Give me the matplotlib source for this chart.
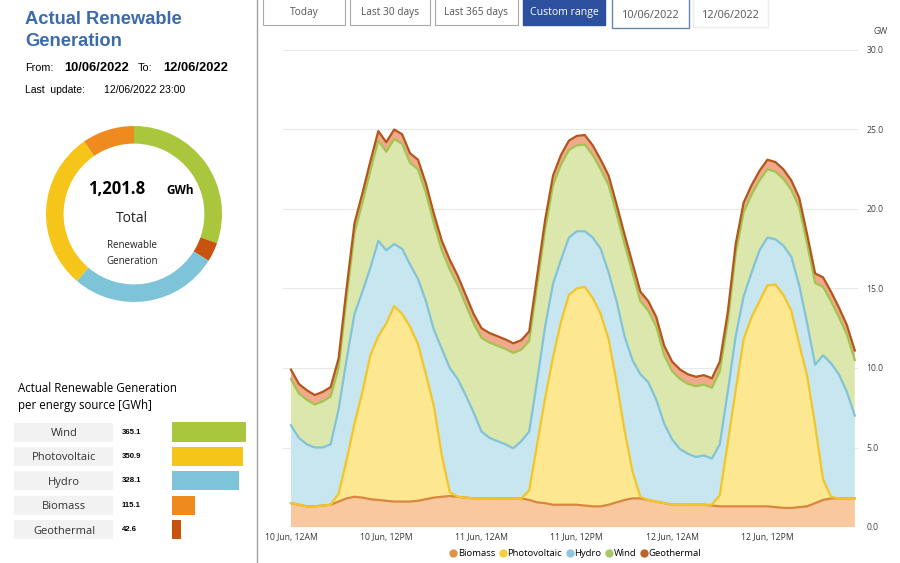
import matplotlib.pyplot as plt
import numpy as np
from matplotlib.patches import Rectangle
from matplotlib.lines import Line2D

# hourly generation per source [GW], 10/06/2022 00:00 .. 12/06/2022 23:00
biomass = [1.5, 1.4, 1.3, 1.3, 1.35, 1.4, 1.6, 1.8, 1.9, 1.85, 1.75, 1.7,
           1.65, 1.6, 1.6, 1.6, 1.65, 1.75, 1.85, 1.9, 1.95, 1.9, 1.85, 1.8,
           1.8, 1.8, 1.8, 1.8, 1.8, 1.8, 1.7, 1.55, 1.5, 1.4, 1.4, 1.4,
           1.4, 1.35, 1.3, 1.3, 1.4, 1.55, 1.7, 1.8, 1.8, 1.7, 1.6, 1.5,
           1.4, 1.4, 1.4, 1.4, 1.4, 1.35, 1.3, 1.3, 1.3, 1.3, 1.3, 1.3,
           1.3, 1.25, 1.2, 1.2, 1.25, 1.3, 1.5, 1.7, 1.8, 1.8, 1.8, 1.8]
photovoltaic = [0, 0, 0, 0, 0, 0, 0.5, 2.4, 4.6, 6.65, 9.05, 10.3,
                11.15, 12.3, 11.8, 11.0, 9.85, 7.85, 5.75, 2.6, 0.25, 0, 0, 0,
                0, 0, 0, 0, 0, 0, 0.6, 3.65, 6.6, 9.3, 11.5, 13.2,
                13.6, 13.75, 13.1, 12.1, 10.4, 7.55, 4.4, 1.7, 0.1, 0, 0, 0,
                0, 0, 0, 0, 0, 0.05, 0.7, 4.0, 7.3, 10.5, 11.9, 12.9,
                13.9, 14.0, 13.4, 12.4, 10.25, 8.2, 4.9, 1.3, 0.1, 0, 0, 0]
hydro = [4.9, 4.2, 3.9, 3.7, 3.65, 3.8, 5.3, 6.3, 6.9, 6.3, 5.5, 6.0,
         4.6, 3.9, 4.1, 3.9, 4.1, 4.6, 4.8, 6.7, 7.8, 7.4, 6.45, 5.4,
         4.2, 3.8, 3.6, 3.4, 3.15, 3.6, 3.7, 4.0, 4.5, 4.6, 3.9, 3.6,
         3.6, 3.5, 3.8, 4.1, 4.2, 5.1, 5.9, 7.0, 7.7, 7.4, 6.4, 5.0,
         4.1, 3.5, 3.2, 3.0, 3.1, 2.9, 3.2, 3.2, 3.4, 2.7, 2.8, 3.2,
         3.0, 2.85, 3.1, 3.4, 3.7, 3.3, 3.8, 7.8, 8.4, 7.8, 6.7, 5.2]
wind = [2.9, 2.8, 2.8, 2.7, 2.9, 3.0, 2.6, 3.9, 5.1, 5.6, 6.1, 6.3,
        6.2, 6.6, 6.6, 6.4, 6.9, 6.8, 6.7, 6.2, 6.2, 5.9, 5.7, 5.6,
        5.9, 6.0, 6.0, 6.0, 6.0, 5.75, 5.7, 6.0, 6.1, 6.2, 6.0, 5.5,
        5.4, 5.45, 5.2, 5.0, 5.5, 5.5, 5.8, 5.5, 4.6, 4.5, 4.6, 4.3,
        4.3, 4.4, 4.4, 4.45, 4.45, 4.45, 4.6, 4.4, 5.2, 5.3, 4.9, 4.4,
        4.3, 4.25, 4.2, 4.2, 4.9, 5.0, 5.15, 4.3, 3.9, 3.6, 3.6, 3.5]
geothermal = [0.6, 0.6, 0.6, 0.6, 0.6, 0.6, 0.6, 0.6, 0.6, 0.6, 0.6, 0.6,
              0.6, 0.6, 0.6, 0.6, 0.6, 0.6, 0.6, 0.6, 0.6, 0.6, 0.6, 0.6,
              0.6, 0.6, 0.6, 0.6, 0.6, 0.6, 0.6, 0.6, 0.6, 0.6, 0.6, 0.6,
              0.6, 0.6, 0.6, 0.6, 0.6, 0.6, 0.6, 0.6, 0.6, 0.6, 0.6, 0.6,
              0.6, 0.6, 0.6, 0.6, 0.6, 0.6, 0.6, 0.6, 0.6, 0.6, 0.6, 0.6,
              0.6, 0.6, 0.6, 0.6, 0.6, 0.6, 0.6, 0.6, 0.6, 0.6, 0.6, 0.6]
hours = np.arange(len(biomass))

# totals per source [GWh]
sources = ['Wind', 'Photovoltaic', 'Hydro', 'Biomass', 'Geothermal']
totals = [365.1, 350.9, 328.1, 115.1, 42.6]
donut_order = ['Wind', 'Geothermal', 'Hydro', 'Photovoltaic', 'Biomass']
total_text = '1,201.8'

tick_hours = [0, 12, 24, 36, 48, 60]
tick_labels = ['10 Jun, 12AM', '10 Jun, 12PM', '11 Jun, 12AM',
               '11 Jun, 12PM', '12 Jun, 12AM', '12 Jun, 12PM']
y_ticks = [0, 5, 10, 15, 20, 25, 30]
buttons = ['Today', 'Last 30 days', 'Last 365 days', 'Custom range',
           '10/06/2022', '12/06/2022']

solid = {'Wind': '#a9c63d', 'Photovoltaic': '#f5c51a', 'Hydro': '#7ec4d8',
         'Biomass': '#ef8b1e', 'Geothermal': '#c8520f'}
fills = ['#f9c89e', '#fde891', '#c8e6f0', '#dbe7ad', '#f0a98a']
lines = ['#d7873e', '#f1c62a', '#82c3d6', '#a4c452', '#b4561c']
marks = ['#dd9448', '#f5cf3c', '#8ec8da', '#a6c868', '#c0602a']

W, H = 900, 563


def box(x0, y0, x1, y1):
    return [x0 / W, 1 - y1 / H, (x1 - x0) / W, (y1 - y0) / H]


fig = plt.figure(figsize=(9, 5.63), dpi=100)
fig.patch.set_facecolor('white')
ui = 'Open Sans'
arial = 'Liberation Sans'

# pixel overlay for texts and frames
ov = fig.add_axes([0, 0, 1, 1])
ov.set_xlim(0, W)
ov.set_ylim(H, 0)
ov.axis('off')

ov.plot([257, 257], [0, H], color='#a0a0a0', lw=1)

ov.text(25, 19, 'Actual Renewable', fontsize=13.2, weight='bold', color='#3b6bab',
        family=arial, va='center')
ov.text(25, 41, 'Generation', fontsize=13.2, weight='bold', color='#3b6bab',
        family=arial, va='center')
ov.text(25, 68, 'From:', fontsize=7.8, family=arial, va='center')
ov.text(64, 68, '10/06/2022', fontsize=9.3, weight='bold', family=arial, va='center')
ov.text(138, 68, 'To:', fontsize=7.8, family=arial, va='center')
ov.text(163, 68, '12/06/2022', fontsize=9.3, weight='bold', family=arial, va='center')
ov.text(25, 90, 'Last  update:', fontsize=7.5, family=arial, va='center')
ov.text(104, 90, '12/06/2022 23:00', fontsize=7.5, family=arial, va='center')

# donut
dax = fig.add_axes(box(46, 126, 222, 302))
dax.pie([totals[sources.index(s)] for s in donut_order],
        colors=[solid[s] for s in donut_order], startangle=90, counterclock=False,
        wedgeprops=dict(width=0.2, linewidth=0))
dax.set_xlim(-1, 1)
dax.set_ylim(-1, 1)
dax.axis('off')
ov.text(117, 189, total_text, fontsize=12, weight='bold', family=ui,
        ha='center', va='center')
ov.text(180, 191, 'GWh', fontsize=8.5, weight='bold', family=ui, ha='center', va='center')
ov.text(132, 219, 'Total', fontsize=10, family=ui, ha='center', va='center', color='#222')
ov.text(132, 246, 'Renewable', fontsize=7, family=ui, ha='center', va='center', color='#222')
ov.text(132, 261, 'Generation', fontsize=7, family=ui, ha='center', va='center', color='#222')

# bars per source
ov.text(18, 388, 'Actual Renewable Generation', fontsize=8.3, family=ui, va='center')
ov.text(18, 405, 'per energy source [GWh]', fontsize=8.3, family=ui, va='center')
row_y = 432
row_step = 24.4
for i, (s, v) in enumerate(zip(sources, totals)):
    yc = row_y + i * row_step
    ov.add_patch(Rectangle((14, yc - 9.5), 99, 19, color='#f2f2f2', lw=0))
    ov.text(64, yc + 1.5, s, fontsize=8, family=ui, ha='center', va='center', color='#333')
    ov.text(122, yc, f'{v:.1f}', fontsize=5.6, weight='bold', family=arial, va='center')

bax = fig.add_axes(box(172, row_y - row_step / 2, 252, row_y + 4.5 * row_step))
bax.barh(range(len(sources)), totals, height=0.78, color=[solid[s] for s in sources])
bax.set_xlim(0, 80 / 0.2027)
bax.set_ylim(len(sources) - 0.5, -0.5)
bax.axis('off')

# range buttons
btn_x = [(263, 345), (350, 430), (435, 518), (523, 605), (612, 689), (693, 768)]
for (x0, x1), label in zip(btn_x, buttons):
    if label == 'Custom range':
        ov.add_patch(Rectangle((x0, -2), x1 - x0, 27, facecolor='#2c4f9e', edgecolor='#2c4f9e'))
        ov.text((x0 + x1) / 2, 12, label, fontsize=7.6, family=ui, color='white',
                ha='center', va='center')
    elif label == '10/06/2022':
        ov.add_patch(Rectangle((x0, -2), x1 - x0, 30, facecolor='white', edgecolor='#6487b0', lw=1))
        ov.text((x0 + x1) / 2, 15, label, fontsize=7.8, family=ui, color='#555',
                ha='center', va='center')
    elif label == '12/06/2022':
        ov.add_patch(Rectangle((x0, -2), x1 - x0, 29, facecolor='white', edgecolor='#ececec', lw=1))
        ov.text((x0 + x1) / 2, 15, label, fontsize=7.8, family=ui, color='#555',
                ha='center', va='center')
    else:
        ov.add_patch(Rectangle((x0, -2), x1 - x0, 27, facecolor='white', edgecolor='#a8a8a8', lw=0.8))
        ov.text((x0 + x1) / 2, 12, label, fontsize=7.3, family=ui, color='#555',
                ha='center', va='center')

# stacked area chart
ax = fig.add_axes(box(283, 50, 858, 527))
series = [biomass, photovoltaic, hydro, wind, geothermal]
ax.stackplot(hours, *series, colors=fills, lw=0)
cum = np.cumsum(np.array(series), axis=0)
for c, col in zip(cum, lines):
    ax.plot(hours, c, color=col, lw=1.6, solid_joinstyle='round')
ax.set_xlim(-1.0, 71.4)
ax.set_ylim(0, 30)
ax.set_yticks(y_ticks)
ax.set_yticklabels([f'{t:.1f}' for t in y_ticks])
ax.yaxis.tick_right()
ax.set_xticks(tick_hours)
ax.set_xticklabels(tick_labels)
ax.tick_params(axis='y', length=0, pad=6, labelsize=6.2, labelcolor='#444')
ax.tick_params(axis='x', length=0, pad=4, labelsize=6.2, labelcolor='#333')
for lab in ax.get_xticklabels() + ax.get_yticklabels():
    lab.set_family(ui)
ax.yaxis.grid(True, color='#e8e8e8', lw=0.8)
ax.set_axisbelow(True)
for sp in ax.spines.values():
    sp.set_visible(False)
ax.patch.set_alpha(0)
ov.text(873, 31, 'GW', fontsize=6.2, family=ui, color='#444', va='center')

handles = [Line2D([], [], marker='o', ls='', color=c, markersize=5) for c in marks]
fig.legend(handles, ['Biomass', 'Photovoltaic', 'Hydro', 'Wind', 'Geothermal'],
           loc='center', bbox_to_anchor=(575 / W, 1 - 554 / H), ncol=5, frameon=False,
           prop={'family': ui, 'size': 6.8}, handletextpad=0.0, columnspacing=0.3,
           handlelength=1.0, borderaxespad=0)

fig.savefig('out.png', dpi=100)
